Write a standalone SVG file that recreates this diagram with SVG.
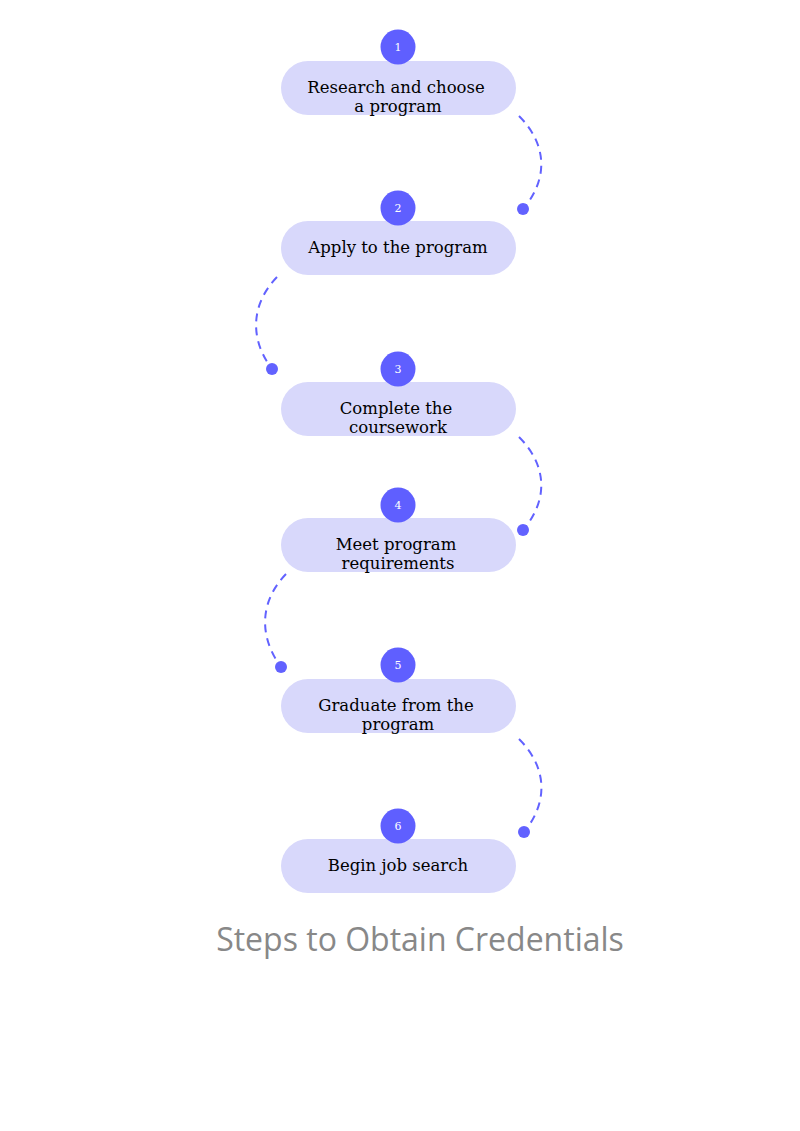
<svg xmlns="http://www.w3.org/2000/svg" width="800" height="1131" viewBox="0 0 800 1131">
<style>
.pill{fill:#d8d8fb}
.badge{fill:#5f5fff}
.num{font-family:"DejaVu Serif",serif;font-size:11px;fill:#ffffff;text-anchor:middle}
.lbl{font-family:"DejaVu Serif",serif;font-size:16.5px;fill:#000000;text-anchor:middle}
.conn{fill:none;stroke:#6262ff;stroke-width:2;stroke-dasharray:8 6}
.dot{fill:#6262ff}
.title{font-family:"Open Sans",sans-serif;font-size:32px;fill:#888888;text-anchor:middle}
</style>
<rect width="800" height="1131" fill="#ffffff"/>
<g id="connectors">
<path class="conn" d="M519,116 C548,145 548,180 523,209"/>
<circle class="dot" cx="523" cy="209" r="6"/>
<path class="conn" d="M277,277 C250,305 250,340 272,369"/>
<circle class="dot" cx="272" cy="369" r="6"/>
<path class="conn" d="M519,437 C548,466 548,501 523,530"/>
<circle class="dot" cx="523" cy="530" r="6"/>
<path class="conn" d="M286,574 C259,602 259,637 281,667"/>
<circle class="dot" cx="281" cy="667" r="6"/>
<path class="conn" d="M519,739 C548,768 548,803 524,832"/>
<circle class="dot" cx="524" cy="832" r="6"/>
</g>
<g id="node1">
<rect class="pill" x="281" y="61" width="235" height="54" rx="27"/>
<circle class="badge" cx="398" cy="47" r="17.5"/>
<text class="num" x="398" y="51">1</text>
<text class="lbl" x="396" y="93">Research and choose</text>
<text class="lbl" x="398" y="112">a program</text>
</g>
<g id="node2">
<rect class="pill" x="281" y="221" width="235" height="54" rx="27"/>
<circle class="badge" cx="398" cy="208" r="17.5"/>
<text class="num" x="398" y="212">2</text>
<text class="lbl" x="398" y="253">Apply to the program</text>
</g>
<g id="node3">
<rect class="pill" x="281" y="382" width="235" height="54" rx="27"/>
<circle class="badge" cx="398" cy="369" r="17.5"/>
<text class="num" x="398" y="373">3</text>
<text class="lbl" x="396" y="414">Complete the</text>
<text class="lbl" x="398" y="433">coursework</text>
</g>
<g id="node4">
<rect class="pill" x="281" y="518" width="235" height="54" rx="27"/>
<circle class="badge" cx="398" cy="505" r="17.5"/>
<text class="num" x="398" y="509">4</text>
<text class="lbl" x="396" y="550">Meet program</text>
<text class="lbl" x="398" y="569">requirements</text>
</g>
<g id="node5">
<rect class="pill" x="281" y="679" width="235" height="54" rx="27"/>
<circle class="badge" cx="398" cy="665" r="17.5"/>
<text class="num" x="398" y="669">5</text>
<text class="lbl" x="396" y="711">Graduate from the</text>
<text class="lbl" x="398" y="730">program</text>
</g>
<g id="node6">
<rect class="pill" x="281" y="839" width="235" height="54" rx="27"/>
<circle class="badge" cx="398" cy="826" r="17.5"/>
<text class="num" x="398" y="830">6</text>
<text class="lbl" x="398" y="871">Begin job search</text>
</g>
<text class="title" x="420" y="951">Steps to Obtain Credentials</text>
</svg>
